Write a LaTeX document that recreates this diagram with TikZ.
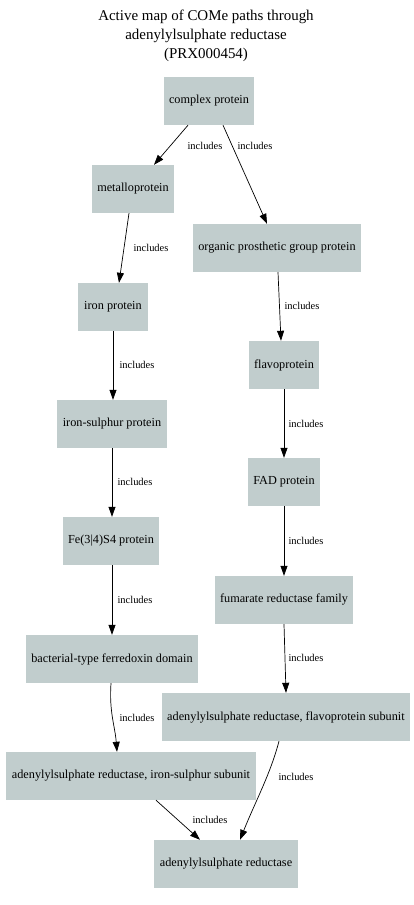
\documentclass[tikz,border=0pt]{standalone}
\usepackage{fontspec}
\setmainfont{Liberation Serif}
\usetikzlibrary{%
  positioning,
  calc,
  arrows.meta,
}
\definecolor{boxgrey}{HTML}{C1CDCD}

\begin{document}
\begin{tikzpicture}[%
           x=1bp, y=-1bp,
           entry/.style={
             % The shape:
             rectangle,
             % The size:
             minimum width=70bp,
             minimum height=48bp,
             inner xsep=5.5bp,
             % The filling (no border):
             fill=boxgrey,
             % The text:
             font=\fontsize{12.3}{14}\selectfont,
           },
           includes/.style={
             -{Triangle[length=10bp,width=7bp]},
             line width=0.7bp,
             color=black,
           },
           lbl/.style={
             font=\fontsize{10.5}{12}\selectfont,
             inner sep=0pt,
           }]

         \useasboundingbox (0,0) rectangle (413,905);

         % title
         \node[align=center, font=\fontsize{15}{19}\selectfont] (title) at (206,36)
           {Active map of COMe paths through\\adenylylsulphate reductase\\(PRX000454)};

         % left branch
         \node[entry] (complex) at (209,101) {complex protein};
         \node[entry] (metallo) at (133,189) {metalloprotein};
         \node[entry] (iron) at (113,307) {iron protein};
         \node[entry] (ironsulphur) at (112,424) {iron-sulphur protein};
         \node[entry] (fes) at (111,541) {Fe(3|4)S4 protein};
         \node[entry] (ferredoxin) at (112,659) {bacterial-type ferredoxin domain};
         \node[entry] (issubunit) at (131,776) {adenylylsulphate reductase, iron-sulphur subunit};

         % right branch
         \node[entry] (organic) at (277,248) {organic prosthetic group protein};
         \node[entry] (flavo) at (284,365) {flavoprotein};
         \node[entry] (fad) at (284,482) {FAD protein};
         \node[entry] (fumarate) at (284,600) {fumarate reductase family};
         \node[entry] (fpsubunit) at (286,717) {adenylylsulphate reductase, flavoprotein subunit};

         \node[entry] (apsr) at (226,864) {adenylylsulphate reductase};

         \draw[includes] ([xshift=-21bp]complex.south) -- ([xshift=21bp]metallo.north)
           node[lbl, at={(205,146)}] {includes};
         \draw[includes] ([xshift=14bp]complex.south) -- ([xshift=-10bp]organic.north)
           node[lbl, at={(255,146)}] {includes};
         \draw[includes] ([xshift=-4bp]metallo.south) -- ([xshift=6bp]iron.north)
           node[lbl, at={(151,248)}] {includes};
         \draw[includes] ([xshift=1bp]organic.south) -- ([xshift=-3bp]flavo.north)
           node[lbl, at={(302,306)}] {includes};
         \draw[includes] (iron.south) -- ([xshift=1bp]ironsulphur.north)
           node[lbl, at={(137,365)}] {includes};
         \draw[includes] (flavo.south) -- (fad.north)
           node[lbl, at={(306,424)}] {includes};
         \draw[includes] (ironsulphur.south) -- ([xshift=1bp]fes.north)
           node[lbl, at={(135,482)}] {includes};
         \draw[includes] (fad.south) -- (fumarate.north)
           node[lbl, at={(306,541)}] {includes};
         \draw[includes] ([xshift=1bp]fes.south) -- (ferredoxin.north)
           node[lbl, at={(135,600)}] {includes};
         \draw[includes] (fumarate.south) -- (fpsubunit.north)
           node[lbl, at={(306,658)}] {includes};
         \draw[includes] ([xshift=-1bp]ferredoxin.south) .. controls (109,712) and (115,726) .. ([xshift=-14bp]issubunit.north)
           node[lbl, at={(137,718)}] {includes};
         \draw[includes] ([xshift=25bp]issubunit.south) -- ([xshift=-26bp]apsr.north)
           node[lbl, at={(210,820)}] {includes};
         \draw[includes] ([xshift=-7bp]fpsubunit.south) .. controls (270,775) and (256,800) .. ([xshift=14bp]apsr.north)
           node[lbl, at={(296,777)}] {includes};
       \end{tikzpicture}
\end{document}
